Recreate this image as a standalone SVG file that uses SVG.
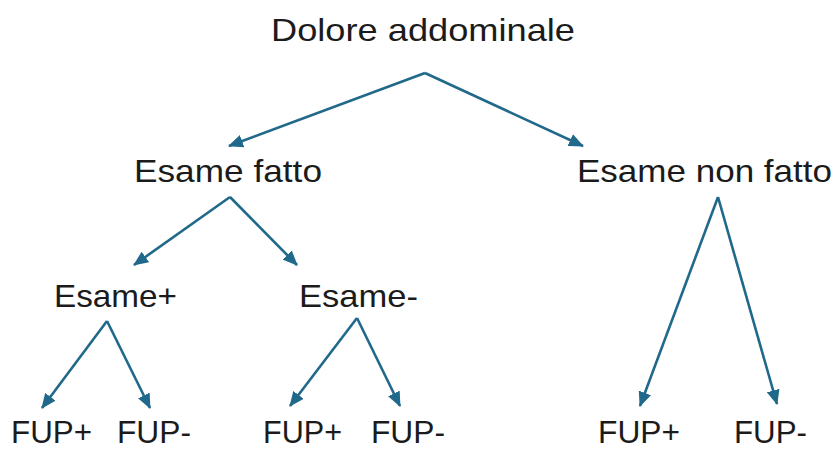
<svg xmlns="http://www.w3.org/2000/svg" width="836" height="450" viewBox="0 0 836 450">
<style>
text{font-family:"Liberation Sans",Arial,sans-serif;font-size:32px;fill:#1b1b1b;}
.f{font-size:31px;}
.c line{stroke:#21698a;stroke-width:2.6;fill:none;marker-end:url(#ah);}
</style>
<defs>
<marker id="ah" markerUnits="userSpaceOnUse" markerWidth="15" markerHeight="13" viewBox="0 0 15 13" refX="14" refY="6.5" orient="auto">
<path d="M0,0 L15,6.5 L0,13 Z" fill="#21698a"/>
</marker>
</defs>
<rect width="836" height="450" fill="#ffffff"/>
<g class="c" id="connectors">
<line x1="425" y1="73" x2="229" y2="146"/>
<line x1="425" y1="73" x2="583" y2="146"/>
<line x1="230" y1="197" x2="134" y2="265"/>
<line x1="230" y1="197" x2="297" y2="265"/>
<line x1="107" y1="321" x2="42" y2="408"/>
<line x1="107" y1="321" x2="150" y2="408"/>
<line x1="357" y1="318" x2="290" y2="406"/>
<line x1="357" y1="318" x2="400" y2="406"/>
<line x1="718" y1="197" x2="640" y2="406"/>
<line x1="718" y1="197" x2="777" y2="404"/>
</g>
<g id="n-root"><text x="271" y="41" textLength="304" lengthAdjust="spacingAndGlyphs">Dolore addominale</text></g>
<g id="n-fatto"><text x="134" y="182" textLength="188" lengthAdjust="spacingAndGlyphs">Esame fatto</text></g>
<g id="n-nonfatto"><text x="577" y="182" textLength="255" lengthAdjust="spacingAndGlyphs">Esame non fatto</text></g>
<g id="n-pos"><text x="54" y="307" textLength="123" lengthAdjust="spacingAndGlyphs">Esame+</text></g>
<g id="n-neg"><text x="299" y="307" textLength="119" lengthAdjust="spacingAndGlyphs">Esame-</text></g>
<g id="n-fup1p"><text class="f" x="11" y="443" textLength="81" lengthAdjust="spacingAndGlyphs">FUP+</text></g>
<g id="n-fup1m"><text class="f" x="117" y="443" textLength="74" lengthAdjust="spacingAndGlyphs">FUP-</text></g>
<g id="n-fup2p"><text class="f" x="263" y="443" textLength="79" lengthAdjust="spacingAndGlyphs">FUP+</text></g>
<g id="n-fup2m"><text class="f" x="371" y="443" textLength="74" lengthAdjust="spacingAndGlyphs">FUP-</text></g>
<g id="n-fup3p"><text class="f" x="598" y="443" textLength="82" lengthAdjust="spacingAndGlyphs">FUP+</text></g>
<g id="n-fup3m"><text class="f" x="734" y="443" textLength="73" lengthAdjust="spacingAndGlyphs">FUP-</text></g>
</svg>
